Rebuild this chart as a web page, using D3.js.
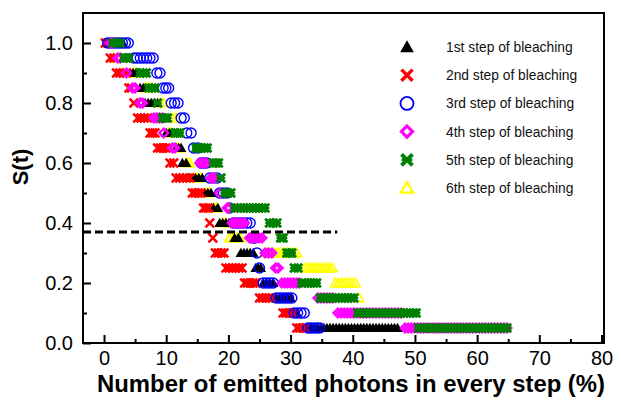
<!DOCTYPE html>
<html>
<head>
<meta charset="utf-8">
<script src="https://cdn.jsdelivr.net/npm/d3@7"></script>
<style>
  body { margin: 0; background: #fff; }
  svg { display: block; }
</style>
</head>
<body>
<svg id="chart" width="621" height="400"></svg>
<script>
// Survival function S(t) levels, one plateau per level
const levels = [1.0, 0.95, 0.9, 0.85, 0.8, 0.75, 0.7, 0.65, 0.6, 0.55,
                0.5, 0.45, 0.4, 0.35, 0.3, 0.25, 0.2, 0.15, 0.1, 0.05];

// Plateau extents [from, to] (% of emitted photons) for each level, per bleaching step
const step1 = [[0.8,3.0],[3.4,4.0],[4.2,5.6],[5.8,6.3],[6.6,8.6],[9.0,9.8],[10.0,11.0],[11.6,12.4],[12.6,13.2],[13.6,15.8],
               [16.2,17.2],[17.6,18.3],[18.6,20.6],[21.0,21.6],[22.0,24.0],[24.4,25.2],[25.6,27.2],[27.6,30.0],[30.4,31.0],[31.4,47.2]];
const step2 = [[0.2,0.6],[1.0,1.6],[2.0,3.6],[4.0,4.4],[4.8,5.0],[5.4,7.0],[7.4,8.2],[8.6,10.4],[10.6,11.2],[11.6,13.8],
               [14.2,15.6],[16.0,16.8],[17.0,17.2],[17.5,17.5],[17.9,19.3],[19.6,22.2],[22.6,24.4],[25.0,27.0],[28.8,30.6],[31.0,32.4]];
const step3 = [[0.6,3.9],[4.8,7.9],[8.5,9.0],[9.5,10.4],[10.8,11.9],[12.4,12.9],[13.3,14.0],[14.4,15.1],[15.6,16.5],[17.0,18.2],
               [18.6,19.8],[20.2,20.4],[20.8,23.5],[23.9,24.2],[24.6,24.6],[25.0,25.1],[25.6,27.2],[27.7,30.2],[30.6,32.2],[32.8,34.7]];
const step4 = [[1.0,1.4],[2.2,2.6],[3.6,3.8],[4.6,5.0],[5.8,6.2],[8.0,9.4],[9.6,9.8],[11.0,11.4],[15.4,16.4],[17.2,18.0],
               [18.6,18.8],[19.8,20.2],[20.6,22.6],[23.4,25.4],[25.9,27.0],[27.6,28.0],[28.6,31.4],[34.4,36.8],[37.6,47.8],[48.4,64.8]];
const step5 = [[1.4,2.6],[3.2,4.0],[5.8,6.8],[7.2,8.2],[8.6,8.6],[9.4,10.2],[11.4,12.2],[14.8,16.6],[17.6,18.4],[18.8,19.0],
               [19.4,20.4],[21.0,25.9],[26.6,27.8],[28.4,28.8],[29.4,30.2],[30.6,31.2],[31.8,34.2],[34.8,40.2],[40.8,50.2],[50.6,64.8]];
const step6 = [[1.0,2.4],[1.6,2.2],[4.8,5.2],[6.6,7.4],[9.0,9.6],[11.0,11.6],[10.4,10.8],[11.8,12.2],[13.4,13.8],[14.4,15.6],
               [16.4,17.0],[17.8,18.1],[19.0,19.6],[20.2,21.9],[26.2,31.0],[32.3,36.7],[37.2,40.4],[41.0,41.2]];

const seriesNames = ["1st step of bleaching", "2nd step of bleaching", "3rd step of bleaching",
                     "4th step of bleaching", "5th step of bleaching", "6th step of bleaching"];
const seriesColors = ["#000000", "#ff0000", "#0000ff", "#ff00ff", "#008000", "#ffff00"];
const seriesShapes = ["triangle", "cross", "circle", "diamond", "star", "openTriangle"];
const seriesData = [step1, step2, step3, step4, step5, step6];
// painting order: the open yellow triangles sit underneath the other steps
const drawOrder = [5, 0, 1, 2, 3, 4];

const xTicks = [0, 10, 20, 30, 40, 50, 60, 70, 80];
const xMinorTicks = [5, 15, 25, 35, 45, 55, 65, 75];
const yTicks = [0.0, 0.2, 0.4, 0.6, 0.8, 1.0];
const yMinorTicks = [0.1, 0.3, 0.5, 0.7, 0.9];

// 1/e reference line
const refLevel = 0.37;
const refEnd = 37.5;

const W = 621, H = 400;
const margin = { top: 13, right: 17, bottom: 57, left: 83 };

const svg = d3.select("#chart");
const x = d3.scaleLinear().domain([-3.38, 80.4]).range([margin.left, W - margin.right]);
const y = d3.scaleLinear().domain([0, 1.1]).range([H - margin.bottom, margin.top]);

// symbol painters, centred at (0,0)
function drawSymbol(g, shape, color, s) {
  switch (shape) {
    case "triangle":
      g.append("path").attr("d", `M0,${-5.2*s}L${5.3*s},${4*s}L${-5.3*s},${4*s}Z`).attr("fill", color);
      break;
    case "openTriangle":
      g.append("path").attr("d", `M0,${-4.6*s}L${4.7*s},${3.6*s}L${-4.7*s},${3.6*s}Z`)
        .attr("fill", "none").attr("stroke", color).attr("stroke-width", 1.8*s).attr("stroke-linejoin", "miter");
      break;
    case "cross":
      g.append("path").attr("d", `M${-4.3*s},${-4.3*s}L${4.3*s},${4.3*s}M${-4.3*s},${4.3*s}L${4.3*s},${-4.3*s}`)
        .attr("stroke", color).attr("stroke-width", 2.6*s).attr("fill", "none");
      break;
    case "circle":
      g.append("circle").attr("r", 5*s).attr("fill", "none").attr("stroke", color).attr("stroke-width", 1.4*s);
      break;
    case "diamond":
      g.append("path").attr("d", `M0,${-4.3*s}L${4.3*s},0L0,${4.3*s}L${-4.3*s},0Z`)
        .attr("fill", "none").attr("stroke", color).attr("stroke-width", 2.4*s);
      break;
    case "star":
      g.append("path").attr("d", `M${-4.2*s},${-4.2*s}L${4.2*s},${4.2*s}M${-4.2*s},${4.2*s}L${4.2*s},${-4.2*s}`)
        .attr("stroke", color).attr("stroke-width", 3*s).attr("fill", "none");
      g.append("path").attr("d", `M${-4.2*s},0L${4.2*s},0`)
        .attr("stroke", color).attr("stroke-width", 2*s);
      break;
  }
}

// plateaus: each flat piece of S(t) is laid down as a row of symbols
const plot = svg.append("g");
const markerGap = 0.5; // % between neighbouring symbols on a plateau
drawOrder.forEach(si => {
  const runs = seriesData[si];
  const g = plot.append("g");
  runs.forEach((run, li) => {
    const [a, b] = run;
    const n = Math.max(1, Math.round((b - a) / markerGap) + 1);
    for (let i = 0; i < n; i++) {
      const xv = n === 1 ? a : a + (b - a) * i / (n - 1);
      const m = g.append("g").attr("transform", `translate(${x(xv)},${y(levels[li])})`);
      drawSymbol(m, seriesShapes[si], seriesColors[si], 1);
    }
  });
});

// dashed 1/e line
svg.append("line")
  .attr("x1", x.range()[0]).attr("x2", x(refEnd))
  .attr("y1", y(refLevel)).attr("y2", y(refLevel))
  .attr("stroke", "#000").attr("stroke-width", 3).attr("stroke-dasharray", "8,4");

// axes with inward ticks
const fontFamily = "'Liberation Sans', Arial, sans-serif";
const xAxis = svg.append("g").attr("transform", `translate(0,${y(0)})`)
  .call(d3.axisBottom(x).tickValues(xTicks).tickSize(-8).tickPadding(8).tickFormat(d3.format("d")));
const xMinor = svg.append("g").attr("transform", `translate(0,${y(0)})`)
  .call(d3.axisBottom(x).tickValues(xMinorTicks).tickSize(-4).tickFormat(""));
const yAxis = svg.append("g").attr("transform", `translate(${x.range()[0]},0)`)
  .call(d3.axisLeft(y).tickValues(yTicks).tickSize(-8).tickPadding(10).tickFormat(d3.format(".1f")));
const yMinor = svg.append("g").attr("transform", `translate(${x.range()[0]},0)`)
  .call(d3.axisLeft(y).tickValues(yMinorTicks).tickSize(-4).tickFormat(""));

[xAxis, xMinor, yAxis, yMinor].forEach(a => {
  a.select(".domain").remove();
  a.selectAll(".tick line").attr("stroke", "#000").attr("stroke-width", 2);
  a.selectAll(".tick text").attr("font-family", fontFamily).attr("font-size", 20).attr("fill", "#000");
});

// plot frame
svg.append("rect")
  .attr("x", x.range()[0]).attr("y", y.range()[1])
  .attr("width", x.range()[1] - x.range()[0]).attr("height", y.range()[0] - y.range()[1])
  .attr("fill", "none").attr("stroke", "#000").attr("stroke-width", 2);

// axis titles
svg.append("text")
  .attr("x", 351).attr("y", 392)
  .attr("text-anchor", "middle").attr("font-family", fontFamily).attr("font-weight", "bold")
  .attr("font-size", 23).attr("textLength", 508).attr("lengthAdjust", "spacingAndGlyphs")
  .text("Number of emitted photons in every step (%)");
svg.append("text")
  .attr("transform", "translate(28,167) rotate(-90)")
  .attr("text-anchor", "middle").attr("font-family", fontFamily).attr("font-weight", "bold")
  .attr("font-size", 22).text("S(t)");

// legend
const legend = svg.append("g");
seriesNames.forEach((name, i) => {
  const ly = 47 + i * 28.2;
  const m = legend.append("g").attr("transform", `translate(407,${ly})`);
  drawSymbol(m, seriesShapes[i], seriesColors[i], 1.3);
  legend.append("text")
    .attr("x", 446).attr("y", ly + 5)
    .attr("font-family", fontFamily).attr("font-size", 13.8).attr("fill", "#111")
    .text(name);
});
</script>
</body>
</html>
